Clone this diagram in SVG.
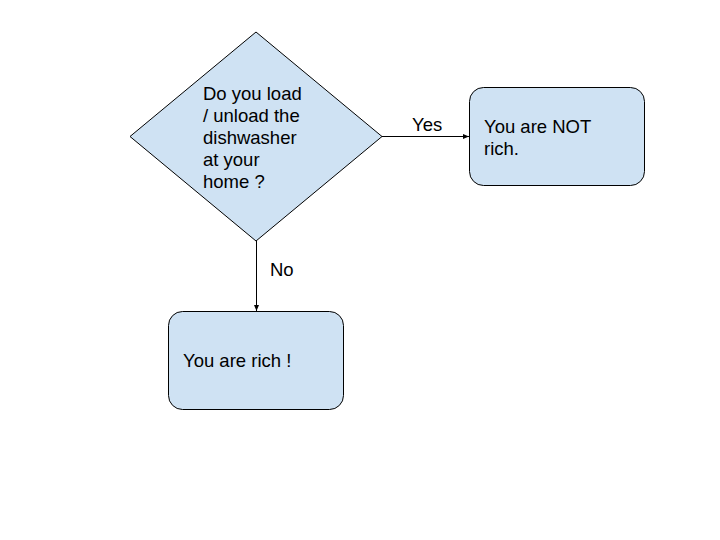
<svg xmlns="http://www.w3.org/2000/svg" width="720" height="540" viewBox="0 0 720 540">
<style>
.shape{fill:#cfe2f3;stroke:#000;stroke-width:1}
.t{font-family:"Liberation Sans",Arial,sans-serif;font-size:18.5px;fill:#000}
.c{stroke:#000;stroke-width:1;fill:none}
</style>
<defs>
<marker id="ah" markerWidth="6" markerHeight="6" refX="6" refY="3" orient="auto" markerUnits="userSpaceOnUse">
<path d="M0,0.5 L6,3 L0,5.5 Z" fill="#000"/>
</marker>
</defs>
<rect width="720" height="540" fill="#fff"/>
<g id="connectors">
<line class="c" x1="382" y1="136.5" x2="469" y2="136.5" marker-end="url(#ah)"/>
<line class="c" x1="256.5" y1="241" x2="256.5" y2="311" marker-end="url(#ah)"/>
<text class="t" x="412" y="131">Yes</text>
<text class="t" x="270" y="276">No</text>
</g>
<g id="decision">
<polygon class="shape" points="256,32 382,136.5 256,241 130,136.5"/>
<text class="t" x="203" y="100">Do you load</text>
<text class="t" x="203" y="122">/ unload the</text>
<text class="t" x="203" y="144">dishwasher</text>
<text class="t" x="203" y="166">at your</text>
<text class="t" x="203" y="188">home ?</text>
</g>
<g id="not-rich">
<rect class="shape" x="469.5" y="87.5" width="175" height="98" rx="14"/>
<text class="t" x="484" y="133">You are NOT</text>
<text class="t" x="484" y="155">rich.</text>
</g>
<g id="rich">
<rect class="shape" x="168.5" y="311.5" width="175" height="98" rx="14"/>
<text class="t" x="183" y="367">You are rich !</text>
</g>
</svg>
